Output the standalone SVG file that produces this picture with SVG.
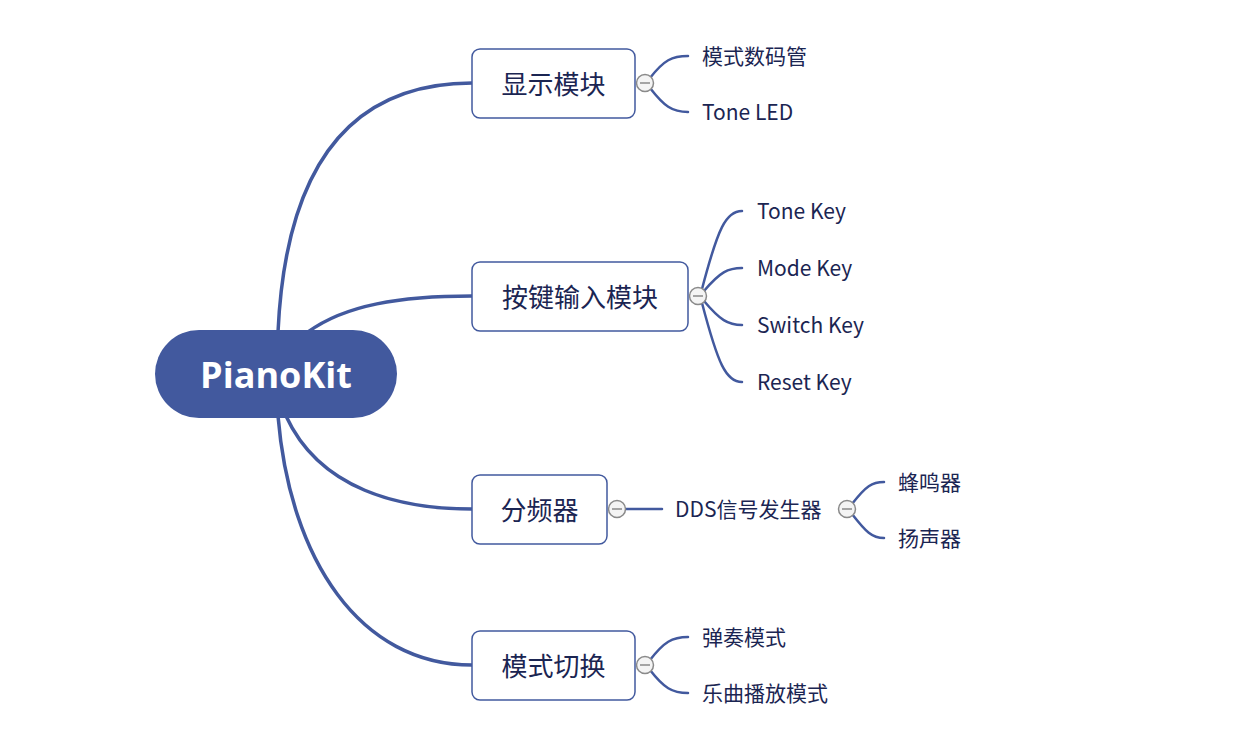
<svg xmlns="http://www.w3.org/2000/svg" width="1248" height="750" viewBox="0 0 1248 750">
<style>
.main{fill:none;stroke:#42599E;stroke-width:3.5;stroke-linecap:round}
.sub{fill:none;stroke:#42599E;stroke-width:2.5;stroke-linecap:round}
.box{fill:#fff;stroke:#42599E;stroke-width:1.5}
.t1{font-family:"Noto Sans CJK SC","Noto Sans",sans-serif;font-size:26px;fill:#1B2552;text-anchor:middle;dominant-baseline:central}
.t2{font-family:"Noto Sans CJK SC","Noto Sans",sans-serif;font-size:21px;fill:#1B2552;dominant-baseline:central}
.tog circle{fill:#f4f4f4;stroke:#8a8a8a;stroke-width:1.5}
.tog line{stroke:#8a8a8a;stroke-width:1.5}
</style>
<rect width="1248" height="750" fill="#fff"/>
<g id="connectors">
<path class="main" d="M278,332 C285,180 340,83 472,83"/>
<path class="main" d="M308,332 C345,305 400,296 472,296"/>
<path class="main" d="M286,416 C320,490 400,509 472,509"/>
<path class="main" d="M278,416 C290,560 360,665 472,665"/>
<path class="sub" d="M650,78 C664,60 672,56 688,56"/>
<path class="sub" d="M650,88 C664,106 672,112 688,112"/>
<path class="sub" d="M702,289 C718,228 726,211 742,211"/>
<path class="sub" d="M704,291 C720,272 728,268 742,268"/>
<path class="sub" d="M704,301 C720,320 728,325 742,325"/>
<path class="sub" d="M702,303 C718,364 726,382 742,382"/>
<path class="sub" d="M626,509 L662,509"/>
<path class="sub" d="M852,504 C866,486 872,482 884,482"/>
<path class="sub" d="M852,514 C866,532 872,538 884,538"/>
<path class="sub" d="M650,660 C664,642 672,637 688,637"/>
<path class="sub" d="M650,670 C664,688 672,693 688,693"/>
</g>
<g id="root">
<rect x="155" y="330" width="242" height="88" rx="44" fill="#42599E"/>
<text x="276" y="374" font-family="'Open Sans','Noto Sans',sans-serif" font-weight="bold" font-size="36" fill="#fff" text-anchor="middle" dominant-baseline="central">PianoKit</text>
</g>
<g id="n-display">
<rect class="box" x="472" y="49" width="163" height="69" rx="8"/>
<text class="t1" x="553.5" y="82">显示模块</text>
</g>
<g id="n-key">
<rect class="box" x="472" y="262" width="216" height="69" rx="8"/>
<text class="t1" x="580" y="295">按键输入模块</text>
</g>
<g id="n-div">
<rect class="box" x="472" y="475" width="135" height="69" rx="8"/>
<text class="t1" x="539.5" y="508">分频器</text>
</g>
<g id="n-mode">
<rect class="box" x="472" y="631" width="163" height="69" rx="8"/>
<text class="t1" x="553.5" y="664">模式切换</text>
</g>
<g id="toggles" class="tog">
<circle cx="645" cy="83" r="8.5"/><line x1="640" y1="83" x2="650" y2="83"/>
<circle cx="698" cy="296" r="8.5"/><line x1="693" y1="296" x2="703" y2="296"/>
<circle cx="617" cy="509" r="8.5"/><line x1="612" y1="509" x2="622" y2="509"/>
<circle cx="847" cy="509" r="8.5"/><line x1="842" y1="509" x2="852" y2="509"/>
<circle cx="645" cy="665" r="8.5"/><line x1="640" y1="665" x2="650" y2="665"/>
</g>
<g id="leaf-1"><text class="t2" x="702" y="55">模式数码管</text></g>
<g id="leaf-2"><text class="t2" x="702" y="111">Tone LED</text></g>
<g id="leaf-3"><text class="t2" x="757" y="210">Tone Key</text></g>
<g id="leaf-4"><text class="t2" x="757" y="267">Mode Key</text></g>
<g id="leaf-5"><text class="t2" x="757" y="324">Switch Key</text></g>
<g id="leaf-6"><text class="t2" x="757" y="381">Reset Key</text></g>
<g id="n-dds"><text class="t2" x="675" y="508">DDS信号发生器</text></g>
<g id="leaf-7"><text class="t2" x="898" y="481">蜂鸣器</text></g>
<g id="leaf-8"><text class="t2" x="898" y="537">扬声器</text></g>
<g id="leaf-9"><text class="t2" x="702" y="636">弹奏模式</text></g>
<g id="leaf-10"><text class="t2" x="702" y="692">乐曲播放模式</text></g>
</svg>
